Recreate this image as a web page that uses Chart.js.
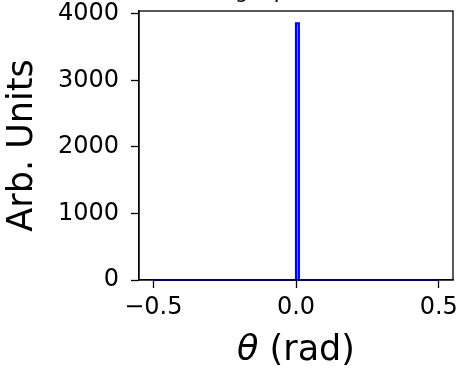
<!DOCTYPE html>
<html>
<head>
<meta charset="utf-8">
<script src="https://cdn.jsdelivr.net/npm/chart.js@4"></script>
<style>
  html, body { margin: 0; padding: 0; background: #fff; }
  #wrap { width: 458px; height: 368px; }
</style>
</head>
<body>
<div id="wrap"><canvas id="chart" width="458" height="368"></canvas></div>
<script>
// data
const thetaVals = [-0.5, 0.0, 0.0, 0.01, 0.01, 0.5];
const intensity = [0, 0, 3860, 3860, 0, 0];
const xTicks = [-0.5, 0.0, 0.5];
const yTicks = [0, 1000, 2000, 3000, 4000];
const titleText = 'Single peak width';
const xLabel = ['θ', ' (rad)'];
const yLabel = 'Arb. Units';

const FONT = "'DejaVu Sans', sans-serif";

// matplotlib-ish frame, title and x label
const frame = {
    id: 'frame',
    afterDraw(chart) {
        const { ctx, chartArea: a } = chart;
        ctx.save();
        ctx.strokeStyle = '#000';
        ctx.lineWidth = 1.3;
        ctx.strokeRect(a.left, a.top, a.right - a.left, a.bottom - a.top);

        // title, mostly cut off by the top edge
        ctx.fillStyle = '#000';
        ctx.font = '21px ' + FONT;
        ctx.textAlign = 'center';
        ctx.textBaseline = 'alphabetic';
        ctx.fillText(titleText, (a.left + a.right) / 2, -2);

        // x label with italic theta
        ctx.textAlign = 'left';
        ctx.font = 'italic 35px ' + FONT;
        const w1 = ctx.measureText(xLabel[0]).width;
        ctx.font = '35px ' + FONT;
        const w2 = ctx.measureText(xLabel[1]).width;
        const x0 = (a.left + a.right) / 2 - (w1 + w2) / 2;
        ctx.font = 'italic 35px ' + FONT;
        ctx.fillText(xLabel[0], x0, 360);
        ctx.font = '35px ' + FONT;
        ctx.fillText(xLabel[1], x0 + w1, 360);
        ctx.restore();
    }
};

new Chart(document.getElementById('chart'), {
    type: 'line',
    data: {
        datasets: [{
            data: thetaVals.map((t, i) => ({ x: t, y: intensity[i] })),
            borderColor: '#0000ff',
            backgroundColor: 'rgba(0, 0, 255, 0.35)',
            borderWidth: 2.2,
            pointRadius: 0,
            tension: 0,
            fill: 'origin',
            clip: false
        }]
    },
    options: {
        responsive: false,
        animation: false,
        layout: { padding: { top: 11, right: 5, left: 0, bottom: 0 } },
        plugins: { legend: { display: false }, tooltip: { enabled: false } },
        scales: {
            x: {
                type: 'linear',
                min: -0.55,
                max: 0.55,
                afterBuildTicks: s => { s.ticks = xTicks.map(v => ({ value: v })); },
                afterFit: s => { s.height = 88; s.paddingLeft = 0; s.paddingRight = 0; },
                grid: { drawOnChartArea: false, drawTicks: true, tickLength: 8, tickColor: '#000', tickWidth: 1.3 },
                border: { display: true, color: '#000', width: 1.3 },
                ticks: {
                    color: '#000',
                    font: { family: FONT, size: 24 },
                    padding: 5,
                    maxRotation: 0,
                    callback: v => (v < 0 ? '\u2212' : '') + Math.abs(v).toFixed(1)
                }
            },
            y: {
                type: 'linear',
                min: 0,
                max: 4045,
                afterBuildTicks: s => { s.ticks = yTicks.map(v => ({ value: v })); },
                afterFit: s => { s.width = 139; s.paddingTop = 0; s.paddingBottom = 0; },
                grid: { drawOnChartArea: false, drawTicks: true, tickLength: 8, tickColor: '#000', tickWidth: 1.3 },
                border: { display: true, color: '#000', width: 1.3 },
                ticks: {
                    color: '#000',
                    font: { family: FONT, size: 24 },
                    padding: 12,
                    callback: v => String(v)
                },
                title: {
                    display: true,
                    text: yLabel,
                    color: '#000',
                    font: { family: FONT, size: 35 },
                    padding: { top: 2, bottom: 0 }
                }
            }
        }
    },
    plugins: [frame]
});
</script>
</body>
</html>
